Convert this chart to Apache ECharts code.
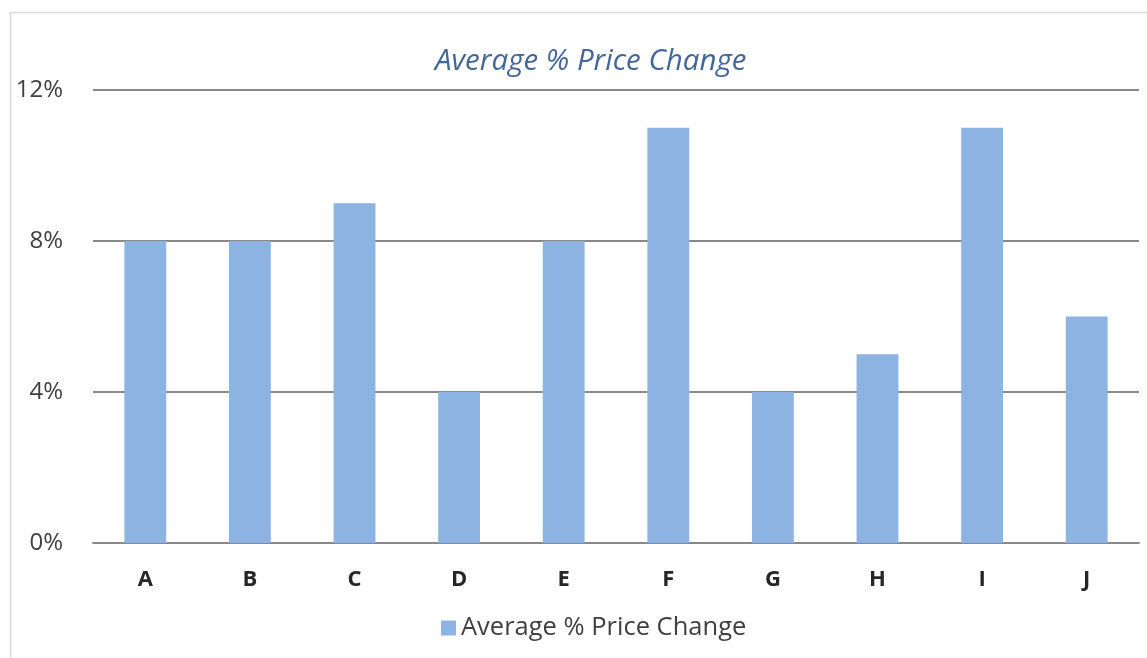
<!DOCTYPE html>
<html>
<head>
<meta charset="utf-8">
<script src="https://cdn.jsdelivr.net/npm/echarts@6/dist/echarts.min.js"></script>
<style>html,body{margin:0;padding:0;background:#fff;}#c{width:1147px;height:658px;}</style>
</head>
<body>
<div id="c"></div>
<script>
const categories = ['A','B','C','D','E','F','G','H','I','J'];
const values = [8, 8, 9, 4, 8, 11, 4, 5, 11, 6];
const seriesName = 'Average % Price Change';
const titleText = 'Average % Price Change';

const chart = echarts.init(document.getElementById('c'));
chart.setOption({
  animation: false,
  backgroundColor: '#fff',
  graphic: [{
    type: 'rect', silent: true, z: -1,
    shape: { x: 10.5, y: 12.5, width: 1300, height: 800 },
    style: { fill: 'none', stroke: '#d9d9d9', lineWidth: 1.5 }
  }],
  title: {
    text: titleText, left: 430, top: 42,
    textStyle: { fontFamily: 'Open Sans', fontStyle: 'italic', fontWeight: 'normal', fontSize: 29.5, color: '#44679a' }
  },
  legend: {
    bottom: 12, left: 436, itemWidth: 15, itemHeight: 15, itemGap: 7,
    icon: 'rect',
    textStyle: { fontFamily: 'Open Sans', fontSize: 25.5, color: '#404040' },
    data: [seriesName]
  },
  grid: { left: 93, right: 8, top: 90, bottom: 115 },
  xAxis: {
    type: 'category', data: categories,
    axisLine: { lineStyle: { color: '#888', width: 2 } },
    axisTick: { show: false },
    axisLabel: { fontFamily: 'Open Sans', fontWeight: 'bold', fontSize: 22, color: '#262626', margin: 26 }
  },
  yAxis: {
    type: 'value', min: 0, max: 12, interval: 4,
    axisLine: { show: false }, axisTick: { show: false },
    splitLine: { lineStyle: { color: '#888', width: 2 } },
    axisLabel: { formatter: '{value}%', fontFamily: 'Open Sans', fontSize: 24, color: '#404040', margin: 30 }
  },
  series: [{
    name: seriesName, type: 'bar', data: values, barWidth: '40%',
    itemStyle: { color: '#8db3e2' }
  }]
});
</script>
</body>
</html>
